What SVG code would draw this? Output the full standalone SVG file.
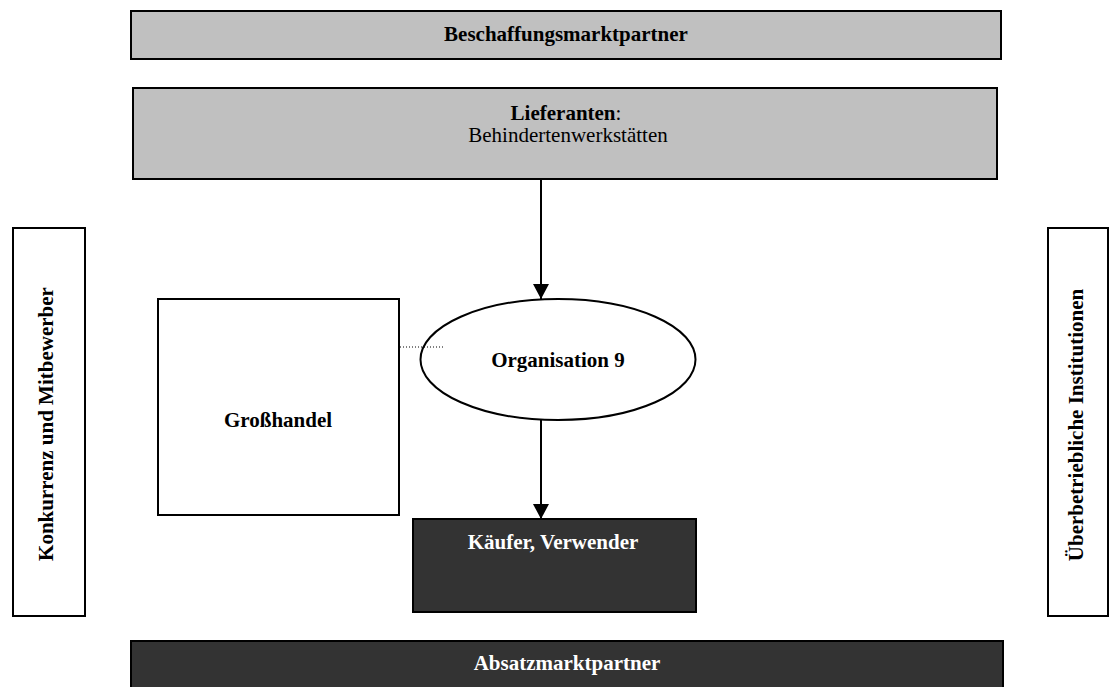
<svg xmlns="http://www.w3.org/2000/svg" width="1110" height="687" viewBox="0 0 1110 687">
<style>
  text { font-family: "Liberation Serif", "Times New Roman", serif; font-size: 21px; text-anchor: middle; }
  .b { font-weight: bold; }
  .light { fill: #c0c0c0; stroke: #000; stroke-width: 2; }
  .dark { fill: #333333; stroke: #000; stroke-width: 2; }
  .plain { fill: #fff; stroke: #000; stroke-width: 2; }
  .wt { fill: #fff; }
  .conn { stroke: #000; stroke-width: 2; fill: none; }
  .dot { stroke: #000; stroke-width: 1; stroke-dasharray: 1 2; fill: none; }
</style>
<defs>
  <marker id="arr" markerUnits="userSpaceOnUse" markerWidth="15" markerHeight="16" refX="15" refY="8" orient="auto" viewBox="0 0 15 16">
    <path d="M0,0 L15,8 L0,16 z" fill="#000"/>
  </marker>
</defs>
<rect width="1110" height="687" fill="#fff"/>
<g id="beschaffung">
  <rect class="light" x="131" y="11" width="870" height="48"/>
  <text class="b" x="566" y="41">Beschaffungsmarktpartner</text>
</g>
<g id="lieferanten">
  <rect class="light" x="133" y="88" width="864" height="91"/>
  <text x="566" y="120"><tspan class="b">Lieferanten</tspan>:</text>
  <text x="568" y="142">Behindertenwerkstätten</text>
</g>
<g id="konkurrenz">
  <rect class="plain" x="13" y="228" width="72" height="388"/>
  <text class="b" transform="translate(53,424) rotate(-90)">Konkurrenz und Mitbewerber</text>
</g>
<g id="ueberbetrieblich">
  <rect class="plain" x="1048" y="228" width="60" height="388"/>
  <text class="b" transform="translate(1083,425) rotate(-90)">Überbetriebliche Institutionen</text>
</g>
<g id="grosshandel">
  <rect class="plain" x="158" y="299" width="241" height="216"/>
  <text class="b" x="278" y="427">Großhandel</text>
</g>
<g id="organisation">
  <ellipse class="plain" cx="558" cy="359.5" rx="137.5" ry="60.5"/>
  <text class="b" x="558" y="367">Organisation 9</text>
</g>
<g id="kaeufer">
  <rect class="dark" x="413" y="519" width="283" height="93"/>
  <text class="b wt" x="553" y="549">Käufer, Verwender</text>
</g>
<g id="absatz">
  <rect class="dark" x="131" y="641" width="872" height="50"/>
  <text class="b wt" x="567" y="670">Absatzmarktpartner</text>
</g>
<g id="connectors">
  <line class="conn" x1="541" y1="179" x2="541" y2="299" marker-end="url(#arr)"/>
  <line class="conn" x1="541" y1="420" x2="541" y2="519" marker-end="url(#arr)"/>
  <line class="dot" x1="400" y1="347" x2="444" y2="347"/>
</g>
</svg>
